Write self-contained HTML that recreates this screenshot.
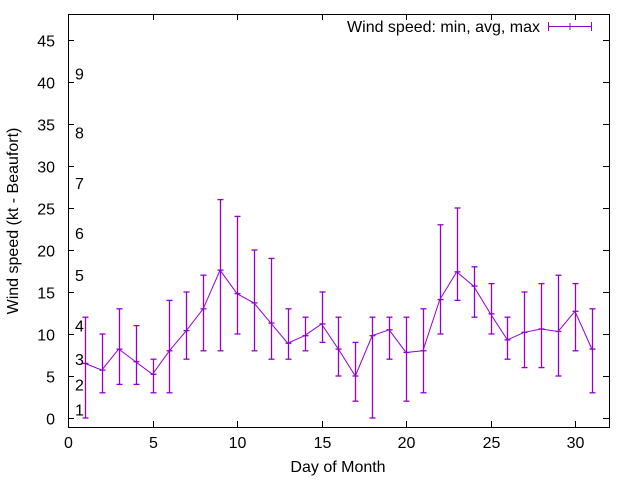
<!DOCTYPE html>
<html><head><meta charset="utf-8"><style>
body{margin:0;background:#fff;}
svg text{font-family:"Liberation Sans",sans-serif;font-size:16px;fill:#000;}
</style></head><body>
<svg id="chart" width="640" height="480" xmlns="http://www.w3.org/2000/svg">
<rect x="68.5" y="14.5" width="541" height="413" fill="none" stroke="#000" stroke-width="1"/>
<g id="axes"></g>
<g id="series"></g>
<text x="338" y="472" text-anchor="middle">Day of Month</text>
<text transform="translate(18,221) rotate(-90)" text-anchor="middle">Wind speed (kt - Beaufort)</text>
<g>
<text x="540" y="32" text-anchor="end">Wind speed: min, avg, max</text>
<line x1="548" y1="26.5" x2="592" y2="26.5" stroke="#9400d3"/>
<line x1="548.5" y1="22" x2="548.5" y2="31" stroke="#9400d3"/>
<line x1="591.5" y1="22" x2="591.5" y2="31" stroke="#9400d3"/>
<line x1="570" y1="23" x2="570" y2="30" stroke="#9400d3"/>
</g>
</svg>
<script>
const days=[1,2,3,4,5,6,7,8,9,10,11,12,13,14,15,16,17,18,19,20,21,22,23,24,25,26,27,28,29,30,31];
const avgs=[6.5,5.7,8.2,6.7,5.2,8,10.4,13,17.6,14.8,13.7,11.3,8.9,9.8,11.2,8.2,5,9.8,10.5,7.8,8,14.1,17.4,15.7,12.4,9.3,10.2,10.6,10.3,12.7,8.2];
const mins=[0,3,4,4,3,3,7,8,8,10,8,7,7,8,9,5,2,0,7,2,3,10,14,12,10,7,6,6,5,8,3];
const maxs=[12,10,13,11,7,14,15,17,26,24,20,19,13,12,15,12,9,12,12,12,13,23,25,18,16,12,15,16,17,16,13];
const xTicks=[0,5,10,15,20,25,30];
const yTicks=[0,5,10,15,20,25,30,35,40,45];
const beaufortKt=[1,4,7,11,17,22,28,34,41];
const beaufortLabels=["1","2","3","4","5","6","7","8","9"];
const X=v=>68+(v-0)*(575-68)/30;
const Y=v=>418-v*(418-40)/45;
const NS="http://www.w3.org/2000/svg";
function mk(tag,attrs,parent){const e=document.createElementNS(NS,tag);for(const k in attrs)e.setAttribute(k,attrs[k]);parent.appendChild(e);return e;}
const axes=document.getElementById('axes'),ser=document.getElementById('series');
xTicks.forEach(t=>{const x=Math.round(X(t))+0.5;
 let l=mk('line',{x1:x,x2:x,y1:427,y2:421,stroke:'#000'},axes);
 
 let l2=mk('line',{x1:x,x2:x,y1:14,y2:20,stroke:'#000'},axes);
 
 let tx=mk('text',{x:x,y:448,'text-anchor':'middle'},axes);tx.textContent=t;
 });
yTicks.forEach(t=>{const y=Math.round(Y(t))+0.5;
 let l=mk('line',{x1:68,x2:74,y1:y,y2:y,stroke:'#000'},axes);
 
 let l2=mk('line',{x1:609,x2:603,y1:y,y2:y,stroke:'#000'},axes);
 
 let tx=mk('text',{x:55,y:y+6,'text-anchor':'end'},axes);tx.textContent=t;
 });
beaufortKt.forEach((k,i)=>{let tx=mk('text',{x:75,y:Y(k)+6},axes);tx.textContent=beaufortLabels[i];
 });
const c='#9400d3';
days.forEach((d,i)=>{const x=Math.round(X(d))+0.5,y1=Y(mins[i]),y2=Y(maxs[i]);
 const g=mk('g',{},ser);
 
 mk('line',{x1:x,x2:x,y1:y1,y2:y2,stroke:c,'stroke-width':1.3},g);
 mk('line',{x1:x-3,x2:x+3,y1:y1,y2:y1,stroke:c,'stroke-width':1.3},g);
 mk('line',{x1:x-3,x2:x+3,y1:y2,y2:y2,stroke:c,'stroke-width':1.3},g);
 const ya=Y(avgs[i]);
 mk('line',{x1:x-3,x2:x+3,y1:ya,y2:ya,stroke:c,'stroke-width':1.3},g);});
const pl=mk('polyline',{points:days.map((d,i)=>X(d)+','+Y(avgs[i])).join(' '),fill:'none',stroke:c,'stroke-width':1},ser);

</script>
</body></html>
